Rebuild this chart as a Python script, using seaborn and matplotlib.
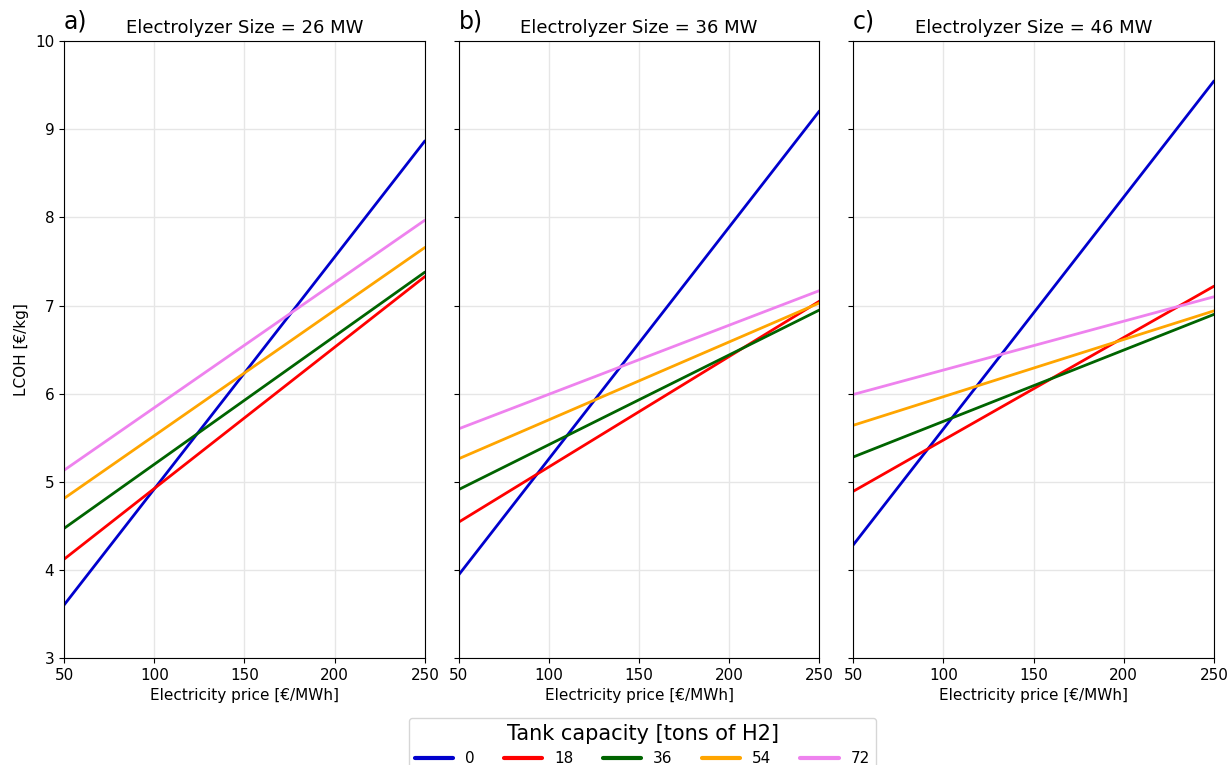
import matplotlib
matplotlib.use("Agg")
import matplotlib.pyplot as plt
import seaborn as sns
import pandas as pd

prices = [50, 250]
tanks = ["0", "18", "36", "54", "72"]
sizes = ["26", "36", "46"]
letters = ["a)", "b)", "c)"]

# LCOH endpoints at 50 and 250 €/MWh for each tank capacity
lcoh_26 = {"0": [3.60, 8.87], "18": [4.12, 7.33], "36": [4.47, 7.38], "54": [4.81, 7.66], "72": [5.13, 7.97]}
lcoh_36 = {"0": [3.94, 9.21], "18": [4.54, 7.05], "36": [4.91, 6.95], "54": [5.26, 7.03], "72": [5.60, 7.17]}
lcoh_46 = {"0": [4.28, 9.55], "18": [4.89, 7.22], "36": [5.28, 6.90], "54": [5.64, 6.94], "72": [5.99, 7.10]}

colors = ["#0000cd", "#ff0000", "#006400", "#ffa500", "#ee82ee"]

sns.set_style("ticks")
plt.rcParams["font.family"] = ["DejaVu Sans"]
plt.rcParams.update({"text.color": "black", "axes.labelcolor": "black",
                     "xtick.color": "black", "ytick.color": "black"})

rows = []
for size, d in zip(sizes, [lcoh_26, lcoh_36, lcoh_46]):
    for t in tanks:
        for p, v in zip(prices, d[t]):
            rows.append({"size": size, "tank": t, "price": p, "lcoh": v})
df = pd.DataFrame(rows)

fig, axes = plt.subplots(1, 3, figsize=(12.31, 7.65), dpi=100, sharey=True)
fig.subplots_adjust(left=0.052, right=0.9862, top=0.946, bottom=0.14, wspace=0.093)

for i, (ax, size, letter) in enumerate(zip(axes, sizes, letters)):
    sub = df[df["size"] == size]
    sns.lineplot(data=sub, x="price", y="lcoh", hue="tank", hue_order=tanks,
                 palette=colors, linewidth=2, ax=ax, legend=(i == 0))
    ax.set_xlim(50, 250)
    ax.set_ylim(3, 10)
    ax.set_xticks([50, 100, 150, 200, 250])
    ax.set_yticks(range(3, 11))
    ax.grid(True, color="#e6e6e6", linewidth=1)
    ax.set_axisbelow(True)
    ax.tick_params(labelsize=11)
    ax.set_xlabel("Electricity price [€/MWh]", fontsize=11)
    ax.set_ylabel("LCOH [€/kg]" if i == 0 else "", fontsize=11)
    ax.set_title(f"Electrolyzer Size = {size} MW", fontsize=13, pad=6)
    ax.text(0.0, 1.012, letter, transform=ax.transAxes, fontsize=17, ha="left", va="bottom")
    for s in ax.spines.values():
        s.set_visible(True)
        s.set_color("black")

handles, labels = axes[0].get_legend_handles_labels()
axes[0].get_legend().remove()
for h in handles:
    h.set_linewidth(3)
fig.legend(handles, labels, title="Tank capacity [tons of H2]", loc="upper center",
           bbox_to_anchor=(0.522, 0.072), ncol=5, fontsize=11, title_fontsize=15,
           frameon=True, columnspacing=1.9, handlelength=2.5)

fig.savefig("out.png", dpi=100)
